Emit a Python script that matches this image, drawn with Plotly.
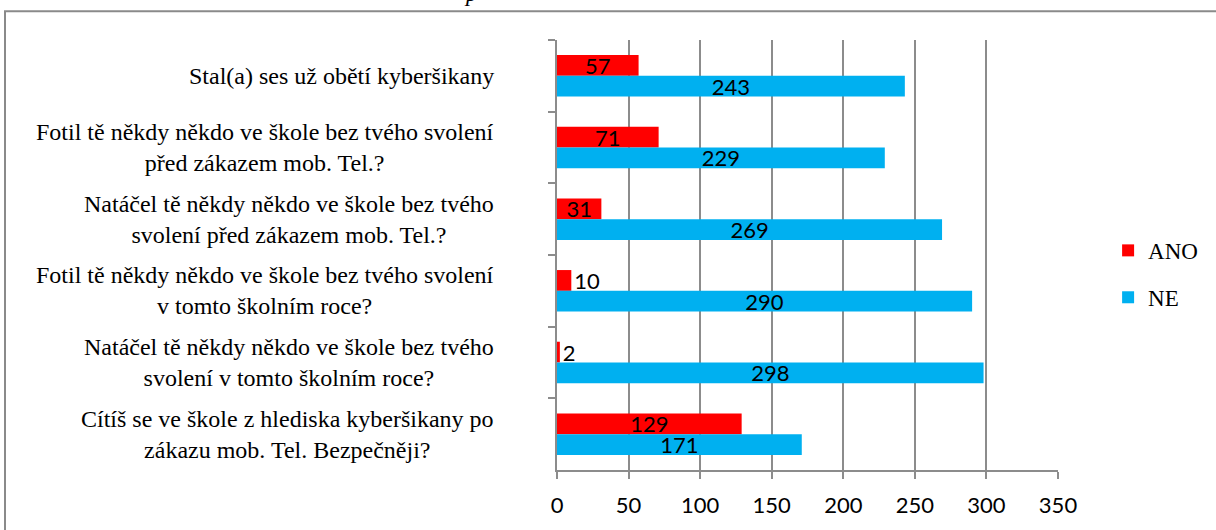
import plotly.graph_objects as go

categories = [
    "Stal(a) ses už obětí kyberšikany",
    "Fotil tě někdy někdo ve škole bez tvého svolení<br>před zákazem mob. Tel.?",
    "Natáčel tě někdy někdo ve škole bez tvého<br>svolení před zákazem mob. Tel.?",
    "Fotil tě někdy někdo ve škole bez tvého svolení<br>v tomto školním roce?",
    "Natáčel tě někdy někdo ve škole bez tvého<br>svolení v tomto školním roce?",
    "Cítíš se ve škole z hlediska kyberšikany po<br>zákazu mob. Tel. Bezpečněji?",
]
ano_values = [57, 71, 31, 10, 2, 129]
ne_values = [243, 229, 269, 290, 298, 171]
series_names = ["ANO", "NE"]
x_ticks = [0, 50, 100, 150, 200, 250, 300, 350]

cat_ids = [f"c{i}" for i in range(len(categories))]

RED = "#FF0000"
BLUE = "#00B0F0"
GRID = "#8C8C8C"
SERIF = "Liberation Serif"
SANS = "Lato"
LABEL_SIZE = 24


def positions(vals):
    return ["outside" if v < 20 else "inside" for v in vals]


fig = go.Figure()
fig.add_trace(go.Bar(
    y=cat_ids, x=ano_values, name=series_names[0], orientation="h",
    marker=dict(color=RED, line=dict(width=0)),
    text=[str(v) for v in ano_values], textposition=positions(ano_values),
    insidetextanchor="middle", constraintext="none", textangle=0,
    textfont=dict(family=SANS, size=22, color="black"),
    legendgroup="a", cliponaxis=False,
))
fig.add_trace(go.Bar(
    y=cat_ids, x=ne_values, name=series_names[1], orientation="h",
    marker=dict(color=BLUE, line=dict(width=0)),
    text=[str(v) for v in ne_values], textposition=positions(ne_values),
    insidetextanchor="middle", constraintext="none", textangle=0,
    textfont=dict(family=SANS, size=22, color="black"),
    legendgroup="b", cliponaxis=False,
))

annotations = []
for cid, lab in zip(cat_ids, categories):
    annotations.append(dict(
        xref="x domain", x=0, xanchor="right", xshift=-61,
        yref="y", y=cid, yanchor="middle", align="center", showarrow=False,
        text=lab,
        font=dict(family=SERIF, size=LABEL_SIZE, color="black"),
    ))

# partially visible caption glyph at the top edge
annotations.append(dict(
    xref="paper", x=(471 - 557) / 501, xanchor="center",
    yref="paper", y=(472 - 8) / 432, yanchor="bottom",
    text="<i>p</i>", showarrow=False,
    font=dict(family=SERIF, size=23, color="black"),
))

fig.update_layout(
    width=1216, height=530,
    margin=dict(l=557, r=158, t=40, b=58),
    paper_bgcolor="white", plot_bgcolor="white",
    barmode="group", bargap=0.42, bargroupgap=0,
    showlegend=True,
    legend=dict(
        x=1.10, xanchor="left", y=0.456, yanchor="middle",
        font=dict(family=SERIF, size=23, color="black"),
        tracegroupgap=14, traceorder="grouped",
        bgcolor="rgba(0,0,0,0)",
    ),
    annotations=annotations,
    shapes=[dict(
        type="rect", xref="paper", yref="paper",
        x0=(5 - 557) / 501, x1=(1230 - 557) / 501,
        y0=(472 - 545) / 432, y1=(472 - 11) / 432,
        line=dict(color="#8A8A8A", width=2), fillcolor="rgba(0,0,0,0)",
        layer="below",
    )],
)

fig.update_xaxes(
    range=[0, 350], tickvals=x_ticks, ticktext=[str(t) for t in x_ticks],
    showgrid=True, gridcolor=GRID, gridwidth=2,
    showline=True, linecolor=GRID, linewidth=2,
    ticks="outside", ticklen=7, tickcolor=GRID, tickwidth=2,
    ticklabelstandoff=8,
    tickfont=dict(family=SANS, size=22, color="black"),
    zeroline=False, fixedrange=True,
)
fig.update_yaxes(
    type="category", categoryorder="array", categoryarray=cat_ids,
    autorange="reversed", tickson="boundaries",
    showticklabels=False, showgrid=False,
    showline=True, linecolor=GRID, linewidth=2,
    ticks="outside", ticklen=7, tickcolor=GRID, tickwidth=2,
    zeroline=False, fixedrange=True,
)

fig.write_html(
    "out.html",
    config={"displayModeBar": False},
    post_script="document.body.style.margin='0';document.body.style.overflow='hidden';",
)
